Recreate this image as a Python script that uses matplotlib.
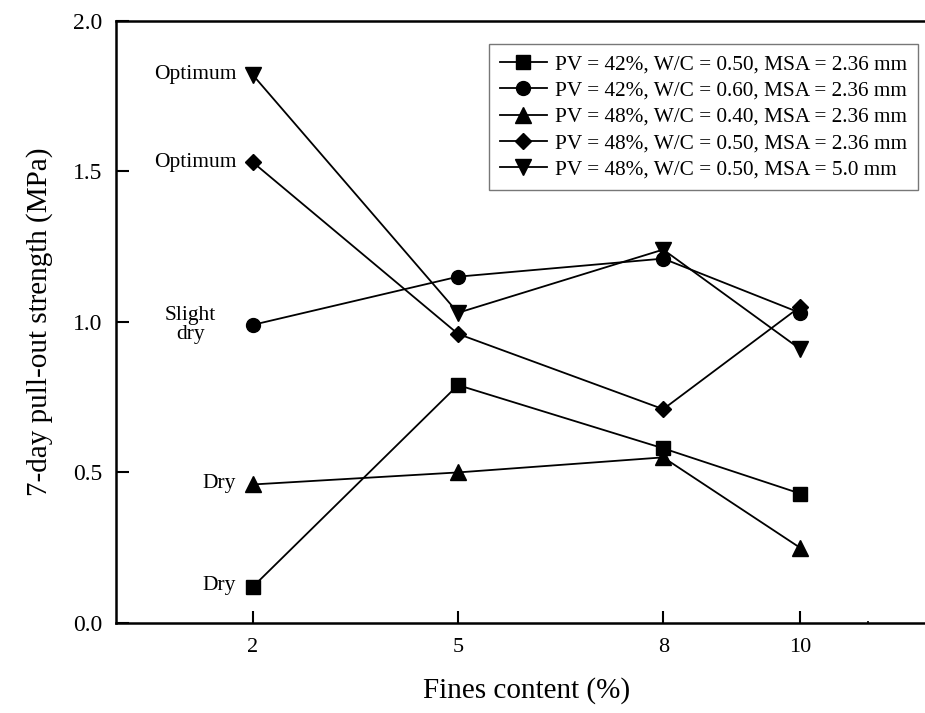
import matplotlib
matplotlib.use("Agg")
import matplotlib.pyplot as plt

plt.rcParams['font.family'] = ['Liberation Serif', 'DejaVu Serif']

fines = [2, 5, 8, 10]
s1 = [0.12, 0.79, 0.58, 0.43]   # PV=42%, W/C=0.50, MSA=2.36
s2 = [0.99, 1.15, 1.21, 1.03]   # PV=42%, W/C=0.60, MSA=2.36
s3 = [0.46, 0.50, 0.55, 0.25]   # PV=48%, W/C=0.40, MSA=2.36
s4 = [1.53, 0.96, 0.71, 1.05]   # PV=48%, W/C=0.50, MSA=2.36
s5 = [1.82, 1.03, 1.24, 0.91]   # PV=48%, W/C=0.50, MSA=5.0
labels = ["PV = 42%, W/C = 0.50, MSA = 2.36 mm",
          "PV = 42%, W/C = 0.60, MSA = 2.36 mm",
          "PV = 48%, W/C = 0.40, MSA = 2.36 mm",
          "PV = 48%, W/C = 0.50, MSA = 2.36 mm",
          "PV = 48%, W/C = 0.50, MSA = 5.0 mm"]
markers = ['s', 'o', '^', 'D', 'v']
msizes = [9.5, 10, 11, 8, 11]
xticks = [2, 5, 8, 10]
yticks = [0.0, 0.5, 1.0, 1.5, 2.0]

fig = plt.figure(figsize=(9.25, 7.13), dpi=100)
ax = fig.add_axes([116/925, 90/713, 820.8/925, 602.3/713])

for ys, lab, m, ms in zip([s1, s2, s3, s4, s5], labels, markers, msizes):
    ax.plot(fines, ys, color='black', lw=1.3, marker=m, ms=ms,
            markerfacecolor='black', markeredgecolor='black', label=lab,
            clip_on=False)

ax.set_xlim(0, 12)
ax.set_ylim(0, 2.0)
ax.set_xticks(xticks)
ax.set_xticklabels([str(t) for t in xticks])
ax.set_xticks([11], minor=True)
ax.set_yticks(yticks)
ax.set_yticklabels([f"{t:.1f}" for t in yticks])
ax.tick_params(axis='both', which='major', direction='in', length=9, width=1.5,
               labelsize=16, pad=11)
ax.tick_params(axis='x', which='minor', direction='in', length=1.5, width=1.2)
ax.tick_params(axis='y', labelsize=17, pad=10)
for sp in ax.spines.values():
    sp.set_linewidth(1.8)

ax.set_xlabel("Fines content (%)", fontsize=21, labelpad=14)
ax.set_ylabel("7-day pull-out strength (MPa)", fontsize=21, labelpad=14)

ann = dict(textcoords='offset points', fontsize=15.5, va='center')
ax.annotate("Optimum", xy=(2, s5[0]), xytext=(-12, 0), ha='right', **ann)
ax.annotate("Optimum", xy=(2, s4[0]), xytext=(-12, 0), ha='right', **ann)
ax.annotate("Slight\ndry", xy=(2, s2[0]), xytext=(-45, 0), ha='center',
            linespacing=1.05, **ann)
ax.annotate("Dry", xy=(2, s3[0]), xytext=(-12, 1), ha='right', **ann)
ax.annotate("Dry", xy=(2, s1[0]), xytext=(-12, 1), ha='right', **ann)

leg = ax.legend(loc='upper right', bbox_to_anchor=(918/925, 1 - 44/713),
                bbox_transform=fig.transFigure, fontsize=15.3, frameon=True,
                fancybox=False, edgecolor='#555555', handlelength=2.2,
                handletextpad=0.4, labelspacing=0.3, borderpad=0.5,
                borderaxespad=0)
leg.get_frame().set_linewidth(1.0)

fig.savefig("out.png", dpi=100)
